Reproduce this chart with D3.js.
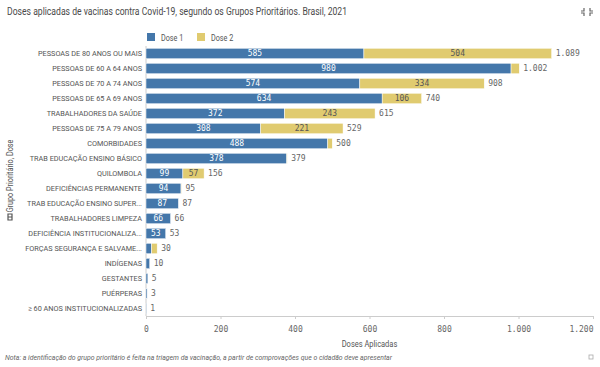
<!DOCTYPE html>
<html>
<head>
<meta charset="utf-8">
<script src="https://cdn.jsdelivr.net/npm/d3@7"></script>
<style>
  body { margin: 0; background: #fff; }
  svg { display: block; }
</style>
</head>
<body>
<div id="chart"></div>
<script>
// data
const groups = [
  'PESSOAS DE 80 ANOS OU MAIS',
  'PESSOAS DE 60 A 64 ANOS',
  'PESSOAS DE 70 A 74 ANOS',
  'PESSOAS DE 65 A 69 ANOS',
  'TRABALHADORES DA SAÚDE',
  'PESSOAS DE 75 A 79 ANOS',
  'COMORBIDADES',
  'TRAB EDUCAÇÃO ENSINO BÁSICO',
  'QUILOMBOLA',
  'DEFICIÊNCIAS PERMANENTE',
  'TRAB EDUCAÇÃO ENSINO SUPER...',
  'TRABALHADORES LIMPEZA',
  'DEFICIÊNCIA INSTITUCIONALIZA...',
  'FORÇAS SEGURANÇA E SALVAME...',
  'INDÍGENAS',
  'GESTANTES',
  'PUÉRPERAS',
  '≥ 60 ANOS INSTITUCIONALIZADAS'
];
const dose1 = [585, 980, 574, 634, 372, 308, 488, 378, 99, 94, 87, 66, 53, 15, 10, 5, 3, 1];
const dose2 = [504, 22, 334, 106, 243, 221, 12, 1, 57, 1, 0, 0, 0, 15, 0, 0, 0, 0];
const seriesNames = ['Dose 1', 'Dose 2'];
const xTicks = [0, 200, 400, 600, 800, 1000, 1200];

const width = 600, height = 367;
const colors = ['#4477aa', '#e0cb70'];
const numFont = '"DejaVu Sans Mono", monospace';
const fmt = v => d3.format(',')(v).replace(/,/g, '.');

// the original font is a condensed one, so squeeze the glyphs a bit
function squeeze(sel, k) {
  sel.each(function() {
    const len = this.getComputedTextLength();
    d3.select(this).attr('textLength', len * k).attr('lengthAdjust', 'spacingAndGlyphs');
  });
}

const svg = d3.select('#chart').append('svg')
  .attr('width', width)
  .attr('height', height)
  .style('font-family', 'Roboto, sans-serif');

const margin = {left: 146, right: 7, top: 46, bottom: 51};

const x = d3.scaleLinear()
  .domain([0, 1200])
  .range([margin.left, width - margin.right]);

const y = d3.scaleBand()
  .domain(groups)
  .range([margin.top, height - margin.bottom])
  .paddingInner(0.3)
  .paddingOuter(0.15);

// title
svg.append('text')
  .attr('x', 7).attr('y', 14.5)
  .attr('font-size', 10)
  .attr('fill', '#4a4a4a')
  .text('Doses aplicadas de vacinas contra Covid-19, segundo os Grupos Prioritários. Brasil, 2021')
  .attr('textLength', 340).attr('lengthAdjust', 'spacingAndGlyphs');

// top right icon
const ic = svg.append('g').attr('stroke', '#666').attr('stroke-width', 1.2).attr('fill', 'none');
ic.append('path').attr('d', 'M584,8 v3 h-3 M590,8 v3 h3 M584,16 v-3 h-3 M590,16 v-3 h3');

// legend
const legend = svg.append('g');
seriesNames.forEach((s, i) => {
  const lx = 147 + i * 50;
  legend.append('rect').attr('x', lx).attr('y', 33).attr('width', 8).attr('height', 8).attr('fill', colors[i]);
  legend.append('text').attr('x', lx + 14).attr('y', 40.5)
    .attr('font-size', 8.5).attr('fill', '#555').text(s)
    .call(squeeze, 0.85);
});

// axes lines
svg.append('line')
  .attr('x1', x(0)).attr('x2', x(0))
  .attr('y1', margin.top).attr('y2', height - margin.bottom)
  .attr('stroke', '#ccc');

const xAxis = svg.append('g')
  .attr('transform', `translate(0,${height - margin.bottom})`)
  .call(d3.axisBottom(x).tickValues(xTicks).tickSize(3).tickPadding(7).tickFormat(fmt));
xAxis.select('.domain').attr('stroke', '#ccc');
xAxis.selectAll('.tick line').attr('stroke', '#ccc');
xAxis.selectAll('.tick text')
  .attr('font-family', numFont).attr('font-size', 8).attr('fill', '#666')
  .attr('text-anchor', d => d === 1200 ? 'end' : 'middle');

svg.append('text')
  .attr('x', x(600)).attr('y', 347)
  .attr('text-anchor', 'middle')
  .attr('font-size', 8.5).attr('fill', '#555')
  .text('Doses Aplicadas')
  .call(squeeze, 0.88);

// y labels
svg.append('g').selectAll('text')
  .data(groups).enter().append('text')
  .attr('x', margin.left - 4)
  .attr('y', d => y(d) + y.bandwidth() / 2)
  .attr('dy', '0.35em')
  .attr('text-anchor', 'end')
  .attr('font-size', 8)
  .attr('fill', '#555')
  .text(d => d)
  .call(squeeze, 0.91);

// y title
const yt = svg.append('g').attr('transform', 'translate(10,176) rotate(-90)');
yt.append('text')
  .attr('x', 0).attr('y', 3)
  .attr('text-anchor', 'middle')
  .attr('font-size', 8.5).attr('fill', '#555')
  .text('Grupo Prioritário, Dose')
  .call(squeeze, 0.85);
yt.append('path')
  .attr('d', 'M-44,-2 h6 v4 h-6z M-41,-2 v4')
  .attr('fill', 'none').attr('stroke', '#555').attr('stroke-width', 1.2);

// bars
const rows = groups.map((g, i) => ({g, vals: [dose1[i], dose2[i]], total: dose1[i] + dose2[i]}));
const bars = svg.append('g').selectAll('g')
  .data(rows).enter().append('g');

bars.each(function(d) {
  const sel = d3.select(this);
  let start = 0;
  d.vals.forEach((v, i) => {
    if (v > 0) {
      sel.append('rect')
        .attr('x', x(start))
        .attr('y', y(d.g))
        .attr('width', x(start + v) - x(start))
        .attr('height', y.bandwidth())
        .attr('fill', colors[i])
        .attr('stroke', '#fff')
        .attr('stroke-width', 0.5);
      if (x(v) - x(0) > 15) {
        sel.append('text')
          .attr('x', x(start + v / 2))
          .attr('y', y(d.g) + y.bandwidth() / 2)
          .attr('dy', '0.35em')
          .attr('text-anchor', 'middle')
          .attr('font-family', numFont)
          .attr('font-size', 8)
          .attr('fill', i === 0 ? '#fff' : '#555')
          .text(fmt(v));
      }
    }
    start += v;
  });
  sel.append('text')
    .attr('x', x(d.total) + 4)
    .attr('y', y(d.g) + y.bandwidth() / 2)
    .attr('dy', '0.35em')
    .attr('font-family', numFont)
    .attr('font-size', 8)
    .attr('fill', '#666')
    .text(fmt(d.total));
});

// note
svg.append('text')
  .attr('x', 5).attr('y', 360)
  .attr('font-size', 7.5)
  .attr('font-style', 'italic')
  .attr('fill', '#666')
  .text('Nota: a identificação do grupo prioritário é feita na triagem da vacinação, a partir de comprovações que o cidadão deve apresentar')
  .attr('textLength', 387).attr('lengthAdjust', 'spacingAndGlyphs');

svg.append('rect')
  .attr('x', 589).attr('y', 355).attr('width', 4).attr('height', 4)
  .attr('fill', 'none').attr('stroke', '#aaa').attr('stroke-width', 0.8);
</script>
</body>
</html>
